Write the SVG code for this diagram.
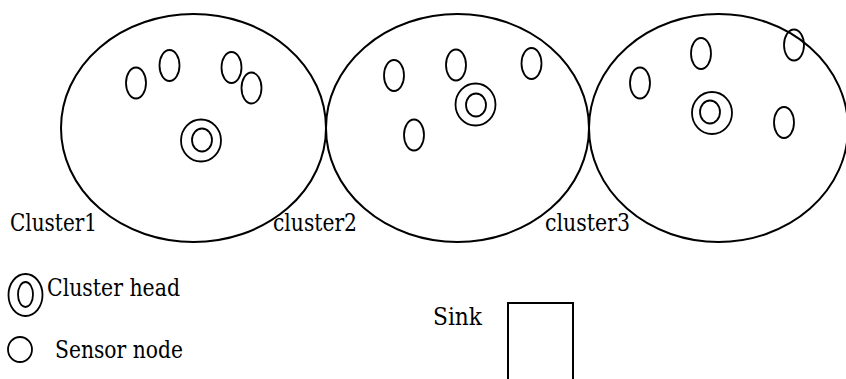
<svg xmlns="http://www.w3.org/2000/svg" width="846" height="379" viewBox="0 0 846 379">
<style>
.c{fill:none;stroke:#000;stroke-width:2}
.s{fill:none;stroke:#000;stroke-width:1.8}
.t{font-family:"DejaVu Serif","Liberation Serif","Noto Serif",serif;font-size:24px;fill:#000}
</style>
<rect width="846" height="379" fill="#fff"/>
<g id="cluster1">
<ellipse class="c" cx="193.5" cy="128" rx="132.5" ry="114"/>
<ellipse class="s" cx="136" cy="83" rx="10" ry="15.5"/>
<ellipse class="s" cx="169.5" cy="65.5" rx="10" ry="15.5"/>
<ellipse class="s" cx="231.5" cy="67.5" rx="10" ry="15.5"/>
<ellipse class="s" cx="251.5" cy="88" rx="10" ry="15.5"/>
<ellipse class="s" cx="201" cy="140.5" rx="20" ry="21"/>
<ellipse class="s" cx="202" cy="140" rx="10" ry="11.5"/>
<text class="t" x="10" y="231" textLength="87" lengthAdjust="spacingAndGlyphs">Cluster1</text>
</g>
<g id="cluster2">
<ellipse class="c" cx="457.5" cy="128" rx="131.5" ry="114"/>
<ellipse class="s" cx="394" cy="75.5" rx="10" ry="15.5"/>
<ellipse class="s" cx="456" cy="65" rx="10" ry="15.5"/>
<ellipse class="s" cx="531.5" cy="63.5" rx="10" ry="15.5"/>
<ellipse class="s" cx="414" cy="135" rx="10" ry="15.5"/>
<ellipse class="s" cx="475.5" cy="104.5" rx="20" ry="21"/>
<ellipse class="s" cx="476" cy="105" rx="10" ry="11.5"/>
<text class="t" x="273" y="231" textLength="84" lengthAdjust="spacingAndGlyphs">cluster2</text>
</g>
<g id="cluster3">
<ellipse class="c" cx="718.5" cy="128" rx="129.5" ry="114"/>
<ellipse class="s" cx="640" cy="83" rx="10" ry="15.5"/>
<ellipse class="s" cx="701" cy="53.5" rx="10" ry="15.5"/>
<ellipse class="s" cx="794" cy="45" rx="10" ry="15.5"/>
<ellipse class="s" cx="784" cy="122.5" rx="10" ry="15.5"/>
<ellipse class="s" cx="712" cy="113" rx="20" ry="21"/>
<ellipse class="s" cx="710" cy="112" rx="10" ry="11.5"/>
<text class="t" x="545" y="231" textLength="85" lengthAdjust="spacingAndGlyphs">cluster3</text>
</g>
<g id="legend-head">
<ellipse class="s" cx="25.5" cy="295" rx="17" ry="21"/>
<ellipse class="s" cx="25.5" cy="294.5" rx="7.5" ry="12.5"/>
<text class="t" x="47" y="296" textLength="133" lengthAdjust="spacingAndGlyphs">Cluster head</text>
</g>
<g id="legend-sensor">
<ellipse class="s" cx="20" cy="349.5" rx="12" ry="12.5"/>
<text class="t" x="55" y="358" textLength="128" lengthAdjust="spacingAndGlyphs">Sensor node</text>
</g>
<g id="sink">
<rect class="c" x="508" y="303" width="65" height="90"/>
<text class="t" x="433" y="325" textLength="49" lengthAdjust="spacingAndGlyphs">Sink</text>
</g>
<g id="connectors"></g>
</svg>
